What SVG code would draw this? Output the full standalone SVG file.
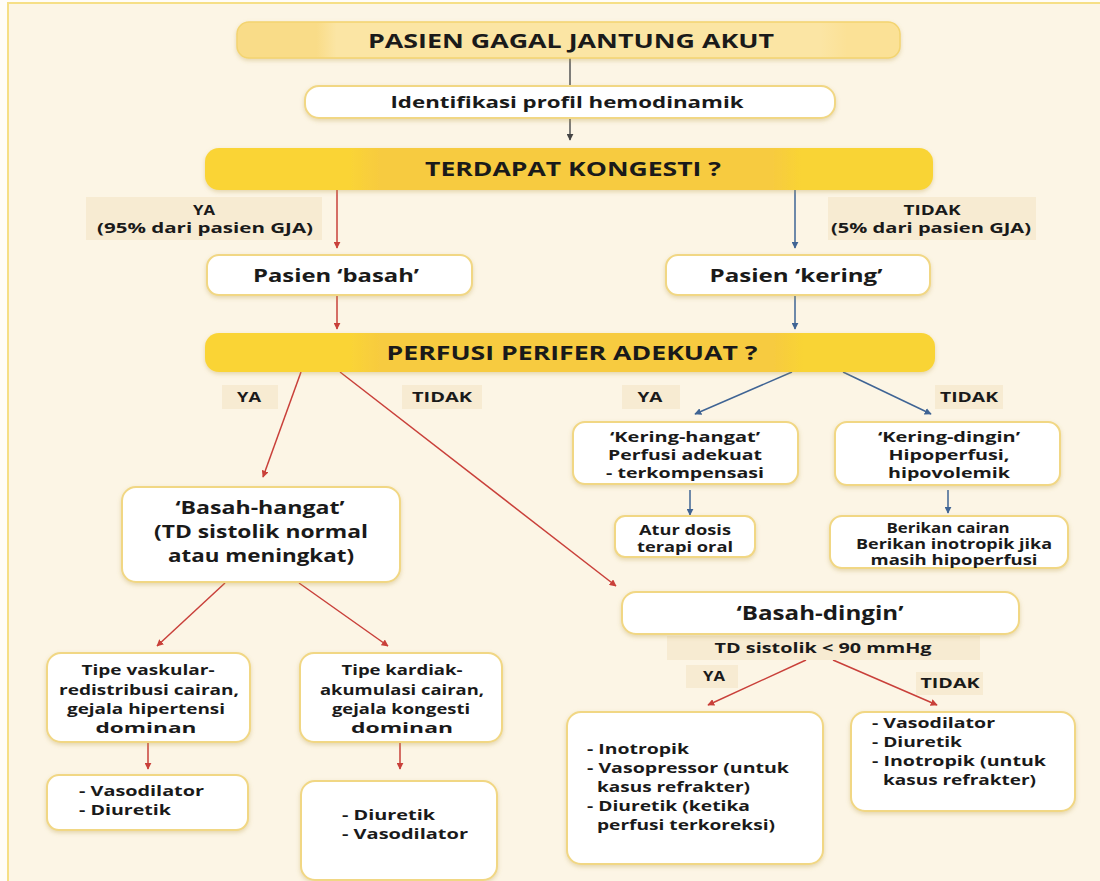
<svg xmlns="http://www.w3.org/2000/svg" width="1100" height="881" viewBox="0 0 1100 881">
<defs>
  <style>
    text { font-family: "Open Sans", "DejaVu Sans", sans-serif; font-weight: 700; fill: #1a1a1a; text-anchor: middle; }
    .box { fill: #ffffff; stroke: #f1d784; stroke-width: 2; filter: url(#sh); }
    .tag { fill: #f7ebd2; }
    .red { stroke: #c9403a; stroke-width: 1.5; fill: none; marker-end: url(#ar); }
    .blue { stroke: #3f6494; stroke-width: 1.5; fill: none; marker-end: url(#ab); }
    .gray { stroke: #555555; stroke-width: 1.5; fill: none; }
    .t13 { font-size: 13.5px; }
    .t14 { font-size: 14.5px; }
    .t15 { font-size: 16px; }
    .t17 { font-size: 18px; }
    .t19 { font-size: 19.5px; }
    .l { text-anchor: start; }
  </style>
  <filter id="sh" x="-10%" y="-20%" width="120%" height="150%">
    <feDropShadow dx="0" dy="2" stdDeviation="2" flood-color="#b89a40" flood-opacity="0.35"/>
  </filter>
  <linearGradient id="gold" x1="0" x2="1" y1="0" y2="0">
    <stop offset="0" stop-color="#fad436"/>
    <stop offset="0.2" stop-color="#fad436"/>
    <stop offset="0.24" stop-color="#f7cb3f"/>
    <stop offset="0.78" stop-color="#f7cb3f"/>
    <stop offset="0.82" stop-color="#f9d434"/>
    <stop offset="1" stop-color="#f9d434"/>
  </linearGradient>
  <linearGradient id="pale" x1="0" x2="1" y1="0" y2="0">
    <stop offset="0" stop-color="#f9dc88"/>
    <stop offset="0.12" stop-color="#f9dc88"/>
    <stop offset="0.15" stop-color="#fbe5a4"/>
    <stop offset="0.88" stop-color="#fbe5a4"/>
    <stop offset="0.92" stop-color="#fbe196"/>
    <stop offset="1" stop-color="#fbe196"/>
  </linearGradient>
  <marker id="ar" viewBox="0 0 10 10" refX="9" refY="5" markerWidth="7" markerHeight="7" orient="auto" markerUnits="userSpaceOnUse">
    <path d="M0,0 L10,5 L0,10 z" fill="#c9403a"/>
  </marker>
  <marker id="ab" viewBox="0 0 10 10" refX="9" refY="5" markerWidth="7" markerHeight="7" orient="auto" markerUnits="userSpaceOnUse">
    <path d="M0,0 L10,5 L0,10 z" fill="#3f6494"/>
  </marker>
  <marker id="ag" viewBox="0 0 10 10" refX="9" refY="5" markerWidth="7" markerHeight="7" orient="auto" markerUnits="userSpaceOnUse">
    <path d="M0,0 L10,5 L0,10 z" fill="#444444"/>
  </marker>
</defs>

<!-- page -->
<rect x="0" y="0" width="1100" height="881" fill="#fffdf8"/>
<rect x="8" y="3" width="1100" height="890" fill="#fcf5e5" stroke="#f6df86" stroke-width="2"/>

<!-- connectors -->
<g id="connectors">
  <line class="gray" x1="570" y1="58" x2="570" y2="86"/>
  <line class="gray" x1="570" y1="118" x2="570" y2="140" style="marker-end:url(#ag)"/>
  <line class="red" x1="337" y1="190" x2="337" y2="248"/>
  <line class="blue" x1="795" y1="190" x2="795" y2="248"/>
  <line class="red" x1="337" y1="296" x2="337" y2="329"/>
  <line class="blue" x1="795" y1="296" x2="795" y2="329"/>
  <line class="red" x1="301" y1="372" x2="263" y2="477"/>
  <line class="red" x1="340" y1="372" x2="616" y2="586"/>
  <line class="blue" x1="792" y1="372" x2="695" y2="414"/>
  <line class="blue" x1="843" y1="372" x2="931" y2="414"/>
  <line class="blue" x1="690" y1="490" x2="690" y2="515"/>
  <line class="blue" x1="948" y1="490" x2="948" y2="513"/>
  <line class="red" x1="225" y1="583" x2="157" y2="646"/>
  <line class="red" x1="299" y1="583" x2="388" y2="646"/>
  <line class="red" x1="148" y1="742" x2="148" y2="769"/>
  <line class="red" x1="400" y1="742" x2="400" y2="769"/>
  <line class="red" x1="806" y1="660" x2="708" y2="705"/>
  <line class="red" x1="833" y1="660" x2="937" y2="705"/>
</g>

<!-- branch labels -->
<g id="labels">
  <rect class="tag" x="86" y="197" width="236" height="43"/>
  <text class="t13" x="204" y="215" textLength="22" lengthAdjust="spacingAndGlyphs">YA</text>
  <text class="t13" x="205" y="233" textLength="216" lengthAdjust="spacingAndGlyphs">(95% dari pasien GJA)</text>
  <rect class="tag" x="828" y="197" width="208" height="43"/>
  <text class="t13" x="932" y="215" textLength="57" lengthAdjust="spacingAndGlyphs">TIDAK</text>
  <text class="t13" x="931" y="233" textLength="200" lengthAdjust="spacingAndGlyphs">(5% dari pasien GJA)</text>
  <rect class="tag" x="222" y="385" width="56" height="24"/>
  <text class="t13" x="249" y="402" textLength="24" lengthAdjust="spacingAndGlyphs">YA</text>
  <rect class="tag" x="402" y="385" width="80" height="24"/>
  <text class="t13" x="442" y="402" textLength="60" lengthAdjust="spacingAndGlyphs">TIDAK</text>
  <rect class="tag" x="622" y="385" width="58" height="24"/>
  <text class="t13" x="650" y="402" textLength="25" lengthAdjust="spacingAndGlyphs">YA</text>
  <rect class="tag" x="935" y="385" width="68" height="24"/>
  <text class="t13" x="969" y="402" textLength="58" lengthAdjust="spacingAndGlyphs">TIDAK</text>
  <rect class="tag" x="667" y="636" width="313" height="24"/>
  <text class="t14" x="823" y="653" textLength="217" lengthAdjust="spacingAndGlyphs">TD sistolik &lt; 90 mmHg</text>
  <rect class="tag" x="686" y="665" width="52" height="23"/>
  <text class="t13" x="714" y="681" textLength="22" lengthAdjust="spacingAndGlyphs">YA</text>
  <rect class="tag" x="916" y="672" width="67" height="23"/>
  <text class="t13" x="950" y="688" textLength="59" lengthAdjust="spacingAndGlyphs">TIDAK</text>
</g>

<!-- nodes -->
<g id="n-title">
  <rect x="237" y="22" width="663" height="36" rx="12" fill="url(#pale)" stroke="#f3d470" stroke-width="1.5" filter="url(#sh)"/>
  <text class="t19" x="571" y="48" textLength="406" lengthAdjust="spacingAndGlyphs">PASIEN GAGAL JANTUNG AKUT</text>
</g>
<g id="n-identifikasi">
  <rect class="box" x="305" y="86" width="530" height="32" rx="14"/>
  <text class="t15" x="567" y="108" textLength="353" lengthAdjust="spacingAndGlyphs">Identifikasi profil hemodinamik</text>
</g>
<g id="n-kongesti">
  <rect x="205" y="148" width="728" height="42" rx="14" fill="url(#gold)" filter="url(#sh)"/>
  <text class="t19" x="573" y="176" textLength="296" lengthAdjust="spacingAndGlyphs">TERDAPAT KONGESTI ?</text>
</g>
<g id="n-basah">
  <rect class="box" x="207" y="255" width="265" height="40" rx="12"/>
  <text class="t17" x="336" y="282" textLength="166" lengthAdjust="spacingAndGlyphs">Pasien ‘basah’</text>
</g>
<g id="n-kering">
  <rect class="box" x="666" y="255" width="264" height="40" rx="12"/>
  <text class="t17" x="796" y="282" textLength="173" lengthAdjust="spacingAndGlyphs">Pasien ‘kering’</text>
</g>
<g id="n-perfusi">
  <rect x="205" y="333" width="730" height="39" rx="14" fill="url(#gold)" filter="url(#sh)"/>
  <text class="t19" x="572" y="360" textLength="371" lengthAdjust="spacingAndGlyphs">PERFUSI PERIFER ADEKUAT ?</text>
</g>
<g id="n-kering-hangat">
  <rect class="box" x="573" y="422" width="225" height="62" rx="12"/>
  <text class="t14" x="685" y="442" textLength="150" lengthAdjust="spacingAndGlyphs">‘Kering-hangat’</text>
  <text class="t14" x="685" y="460" textLength="154" lengthAdjust="spacingAndGlyphs">Perfusi adekuat</text>
  <text class="t14" x="685" y="478" textLength="158" lengthAdjust="spacingAndGlyphs">- terkompensasi</text>
</g>
<g id="n-atur-dosis">
  <rect class="box" x="615" y="516" width="140" height="41" rx="10"/>
  <text class="t14" x="685" y="535" textLength="92" lengthAdjust="spacingAndGlyphs">Atur dosis</text>
  <text class="t14" x="685" y="552" textLength="96" lengthAdjust="spacingAndGlyphs">terapi oral</text>
</g>
<g id="n-kering-dingin">
  <rect class="box" x="835" y="422" width="225" height="63" rx="12"/>
  <text class="t14" x="949" y="442" textLength="142" lengthAdjust="spacingAndGlyphs">‘Kering-dingin’</text>
  <text class="t14" x="949" y="460" textLength="121" lengthAdjust="spacingAndGlyphs">Hipoperfusi,</text>
  <text class="t14" x="949" y="478" textLength="122" lengthAdjust="spacingAndGlyphs">hipovolemik</text>
</g>
<g id="n-berikan-cairan">
  <rect class="box" x="830" y="516" width="238" height="52" rx="12"/>
  <text class="t13" x="948" y="533" textLength="123" lengthAdjust="spacingAndGlyphs">Berikan cairan</text>
  <text class="t13" x="954" y="549" textLength="196" lengthAdjust="spacingAndGlyphs">Berikan inotropik jika</text>
  <text class="t13" x="954" y="565" textLength="167" lengthAdjust="spacingAndGlyphs">masih hipoperfusi</text>
</g>
<g id="n-basah-hangat">
  <rect class="box" x="122" y="487" width="278" height="95" rx="14"/>
  <text class="t17" x="260" y="514" textLength="169" lengthAdjust="spacingAndGlyphs">‘Basah-hangat’</text>
  <text class="t17" x="261" y="538" textLength="214" lengthAdjust="spacingAndGlyphs">(TD sistolik normal</text>
  <text class="t17" x="261" y="562" textLength="186" lengthAdjust="spacingAndGlyphs">atau meningkat)</text>
</g>
<g id="n-basah-dingin">
  <rect class="box" x="622" y="592" width="397" height="42" rx="14"/>
  <text class="t19" x="820" y="620" textLength="167" lengthAdjust="spacingAndGlyphs">‘Basah-dingin’</text>
</g>
<g id="n-vaskular">
  <rect class="box" x="47" y="653" width="203" height="89" rx="14"/>
  <text class="t14" x="148" y="675" textLength="133" lengthAdjust="spacingAndGlyphs">Tipe vaskular-</text>
  <text class="t14" x="149" y="695" textLength="180" lengthAdjust="spacingAndGlyphs">redistribusi cairan,</text>
  <text class="t14" x="146" y="714" textLength="158" lengthAdjust="spacingAndGlyphs">gejala hipertensi</text>
  <text class="t14" x="146" y="733" textLength="101" lengthAdjust="spacingAndGlyphs">dominan</text>
</g>
<g id="n-kardiak">
  <rect class="box" x="300" y="653" width="202" height="89" rx="14"/>
  <text class="t14" x="402" y="675" textLength="121" lengthAdjust="spacingAndGlyphs">Tipe kardiak-</text>
  <text class="t14" x="402" y="695" textLength="164" lengthAdjust="spacingAndGlyphs">akumulasi cairan,</text>
  <text class="t14" x="401" y="714" textLength="138" lengthAdjust="spacingAndGlyphs">gejala kongesti</text>
  <text class="t14" x="402" y="733" textLength="102" lengthAdjust="spacingAndGlyphs">dominan</text>
</g>
<g id="n-terapi-vaskular">
  <rect class="box" x="47" y="775" width="201" height="55" rx="12"/>
  <text class="t14 l" x="79" y="796" textLength="125" lengthAdjust="spacingAndGlyphs">- Vasodilator</text>
  <text class="t14 l" x="79" y="815" textLength="92" lengthAdjust="spacingAndGlyphs">- Diuretik</text>
</g>
<g id="n-terapi-kardiak">
  <rect class="box" x="301" y="781" width="196" height="99" rx="14"/>
  <text class="t14 l" x="342" y="820" textLength="93" lengthAdjust="spacingAndGlyphs">- Diuretik</text>
  <text class="t14 l" x="342" y="839" textLength="126" lengthAdjust="spacingAndGlyphs">- Vasodilator</text>
</g>
<g id="n-terapi-hipotensi">
  <rect class="box" x="567" y="712" width="256" height="152" rx="14"/>
  <text class="t14 l" x="587" y="754" textLength="102" lengthAdjust="spacingAndGlyphs">- Inotropik</text>
  <text class="t14 l" x="587" y="773" textLength="202" lengthAdjust="spacingAndGlyphs">- Vasopressor (untuk</text>
  <text class="t14 l" x="597" y="792" textLength="153" lengthAdjust="spacingAndGlyphs">kasus refrakter)</text>
  <text class="t14 l" x="587" y="811" textLength="163" lengthAdjust="spacingAndGlyphs">- Diuretik (ketika</text>
  <text class="t14 l" x="597" y="830" textLength="178" lengthAdjust="spacingAndGlyphs">perfusi terkoreksi)</text>
</g>
<g id="n-terapi-normotensi">
  <rect class="box" x="851" y="712" width="224" height="99" rx="14"/>
  <text class="t14 l" x="872" y="728" textLength="123" lengthAdjust="spacingAndGlyphs">- Vasodilator</text>
  <text class="t14 l" x="872" y="747" textLength="90" lengthAdjust="spacingAndGlyphs">- Diuretik</text>
  <text class="t14 l" x="872" y="766" textLength="174" lengthAdjust="spacingAndGlyphs">- Inotropik (untuk</text>
  <text class="t14 l" x="883" y="785" textLength="153" lengthAdjust="spacingAndGlyphs">kasus refrakter)</text>
</g>
</svg>
